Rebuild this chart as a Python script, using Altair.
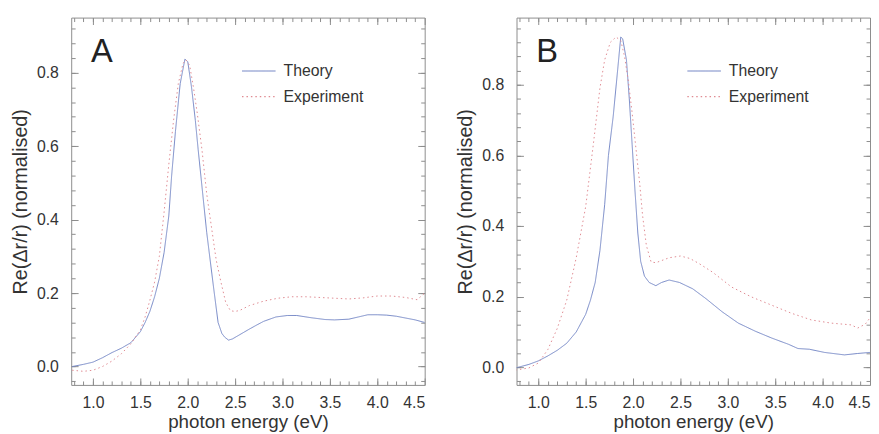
import altair as alt
import pandas as pd

# ---------------- data ----------------
a_theory_x = [0.78, 0.9, 1.0, 1.1, 1.2, 1.3, 1.4, 1.5, 1.55, 1.6, 1.65, 1.7, 1.75, 1.8, 1.83, 1.87,
              1.92, 1.97, 2.0, 2.04, 2.08, 2.11, 2.15, 2.2, 2.27, 2.32, 2.36, 2.39, 2.43, 2.47, 2.55,
              2.65, 2.72, 2.8, 2.93, 3.05, 3.15, 3.3, 3.45, 3.55, 3.7, 3.8, 3.9, 4.0, 4.1, 4.2, 4.3,
              4.4, 4.5]
a_theory_y = [0.0, 0.006, 0.012, 0.024, 0.038, 0.05, 0.065, 0.095, 0.12, 0.15, 0.19, 0.24, 0.31, 0.41,
              0.52, 0.64, 0.77, 0.837, 0.83, 0.76, 0.67, 0.59, 0.49, 0.365, 0.22, 0.12, 0.09, 0.08,
              0.072, 0.075, 0.087, 0.102, 0.112, 0.123, 0.135, 0.139, 0.139, 0.133, 0.128, 0.127,
              0.129, 0.135, 0.141, 0.141, 0.14, 0.137, 0.132, 0.127, 0.12]

a_exp_x = [0.78, 0.9, 1.0, 1.1, 1.2, 1.3, 1.4, 1.5, 1.55, 1.6, 1.65, 1.7, 1.75, 1.8, 1.85, 1.9, 1.95,
           1.98, 2.02, 2.06, 2.1, 2.15, 2.2, 2.25, 2.3, 2.35, 2.4, 2.45, 2.5, 2.55, 2.65, 2.8, 2.95,
           3.1, 3.25, 3.4, 3.55, 3.7, 3.85, 4.0, 4.15, 4.3, 4.42, 4.5]
a_exp_y = [-0.01, -0.013, -0.01, 0.0, 0.015, 0.035, 0.062, 0.1, 0.135, 0.18, 0.23, 0.3, 0.42, 0.55,
           0.67, 0.77, 0.825, 0.835, 0.82, 0.76, 0.69, 0.59, 0.47, 0.38, 0.29, 0.23, 0.175, 0.152,
           0.15, 0.153, 0.166, 0.178, 0.186, 0.19, 0.19, 0.188, 0.186, 0.184, 0.187, 0.192, 0.192,
           0.188, 0.182, 0.2]

b_theory_x = [0.76, 0.9, 1.0, 1.1, 1.2, 1.3, 1.4, 1.5, 1.55, 1.6, 1.65, 1.7, 1.74, 1.79, 1.84, 1.87,
              1.89, 1.93, 1.96, 1.99, 2.02, 2.05, 2.08, 2.12, 2.17, 2.24, 2.3, 2.38, 2.49, 2.63, 2.77,
              2.94, 3.11, 3.29, 3.46, 3.64, 3.74, 3.86, 4.02, 4.23, 4.37, 4.5]
b_theory_y = [-0.002, 0.008, 0.018, 0.032, 0.048, 0.068, 0.1, 0.15, 0.19, 0.24, 0.33, 0.46, 0.6, 0.71,
              0.85, 0.935, 0.93, 0.87, 0.76, 0.63, 0.5, 0.38, 0.3, 0.258, 0.24, 0.231, 0.24, 0.247,
              0.24, 0.222, 0.194, 0.157, 0.125, 0.102, 0.083, 0.065, 0.053, 0.051, 0.042, 0.035,
              0.039, 0.042]

b_exp_x = [0.76, 0.9, 1.0, 1.1, 1.2, 1.3, 1.4, 1.5, 1.58, 1.65, 1.7, 1.76, 1.82, 1.87, 1.91, 1.95,
           1.99, 2.03, 2.07, 2.1, 2.14, 2.19, 2.24, 2.3, 2.38, 2.5, 2.6, 2.7, 2.84, 3.04, 3.25, 3.46,
           3.67, 3.88, 4.09, 4.3, 4.37, 4.45, 4.5]
b_exp_y = [-0.008, -0.002, 0.012, 0.05, 0.11, 0.19, 0.31, 0.455, 0.63, 0.79, 0.87, 0.92, 0.935, 0.925,
           0.88, 0.81, 0.72, 0.62, 0.52, 0.43, 0.345, 0.298, 0.296, 0.302, 0.31, 0.315, 0.308, 0.293,
           0.269, 0.227, 0.199, 0.176, 0.153, 0.134, 0.125, 0.12, 0.111, 0.122, 0.14]

series_names = ["Theory", "Experiment"]
panel_letters = ["A", "B"]
x_title = "photon energy (eV)"
y_title = "Re(\u0394r/r) (normalised)"

x_major = [1.0, 1.5, 2.0, 2.5, 3.0, 3.5, 4.0, 4.5]
x_minor = [round(0.8 + 0.1 * i, 1) for i in range(37)]
y_major = [0.0, 0.2, 0.4, 0.6, 0.8]
y_minor = [round(-0.04 + 0.04 * i, 2) for i in range(26)]

# ---------------- styling ----------------
FONT = "Liberation Sans"
TEXT = "#333333"
FRAME = "#8c8c8c"
BLUE = "#7688c6"
RED = "#e08b92"
MAJ = 7
MIN = 4


def make_df(tx, ty, ex, ey):
    return pd.DataFrame({
        "x": list(tx) + list(ex),
        "y": list(ty) + list(ey),
        "series": [series_names[0]] * len(tx) + [series_names[1]] * len(ex),
    })


def panel(df, ydom, letter):
    xs = alt.Scale(domain=[0.77, 4.5], nice=False, zero=False)
    ys = alt.Scale(domain=ydom, nice=False, zero=False)
    yminor = [v for v in y_minor if ydom[0] < v < ydom[1]]

    leg = alt.Legend(orient="none", legendX=172, legendY=36, title=None,
                     labelFont=FONT, labelFontSize=16, labelColor=TEXT,
                     symbolType="stroke", symbolSize=1156, symbolStrokeWidth=1.1,
                     rowPadding=-12, labelOffset=7, padding=0)

    base = alt.Chart(df)

    main = base.mark_line(strokeWidth=1.0, clip=True).encode(
        x=alt.X("x:Q", scale=xs, axis=alt.Axis(
            orient="bottom", values=x_major, format=".1f", title=x_title,
            domain=False, grid=False, offset=-MAJ, tickSize=MAJ, tickColor=FRAME,
            labelPadding=3 + MAJ, labelFont=FONT, labelFontSize=16, labelColor=TEXT,
            titleFont=FONT, titleFontSize=19, titleFontWeight="normal", titleColor=TEXT,
            titlePadding=2)),
        y=alt.Y("y:Q", scale=ys, axis=alt.Axis(
            orient="left", values=y_major, format=".1f", title=y_title,
            domain=False, grid=False, offset=-MAJ, tickSize=MAJ, tickColor=FRAME,
            labelPadding=6 + MAJ, labelFont=FONT, labelFontSize=16, labelColor=TEXT,
            titleFont=FONT, titleFontSize=20, titleFontWeight="normal", titleColor=TEXT,
            titlePadding=6)),
        color=alt.Color("series:N", scale=alt.Scale(domain=series_names, range=[BLUE, RED]), legend=leg),
        strokeDash=alt.StrokeDash("series:N", scale=alt.Scale(domain=series_names, range=[[1, 0], [1.5, 3]]), legend=leg),
    )

    def dummy(xaxis, yaxis):
        return base.mark_line(strokeOpacity=0).encode(
            x=alt.X("x:Q", scale=xs, axis=xaxis),
            y=alt.Y("y:Q", scale=ys, axis=yaxis),
        )

    common = dict(domain=False, grid=False, labels=False, title=None, tickColor=FRAME)
    bottom_minor = alt.Axis(orient="bottom", values=x_minor, offset=-MIN, tickSize=MIN, **common)
    left_minor = alt.Axis(orient="left", values=yminor, offset=-MIN, tickSize=MIN, **common)
    top_major = alt.Axis(orient="top", values=x_major, offset=-MAJ, tickSize=MAJ, **common)
    right_major = alt.Axis(orient="right", values=y_major, offset=-MAJ, tickSize=MAJ, **common)
    top_minor = alt.Axis(orient="top", values=x_minor, offset=-MIN, tickSize=MIN, **common)
    right_minor = alt.Axis(orient="right", values=yminor, offset=-MIN, tickSize=MIN, **common)

    label = alt.Chart(pd.DataFrame({"t": [letter]})).mark_text(
        font=FONT, fontSize=33, color="#222222", align="left", baseline="alphabetic"
    ).encode(text="t:N", x=alt.value(20), y=alt.value(45))

    return alt.layer(
        main,
        dummy(bottom_minor, left_minor),
        dummy(top_major, right_major),
        dummy(top_minor, right_minor),
        label,
    ).resolve_axis(x="independent", y="independent").properties(width=358, height=372)


pa = panel(make_df(a_theory_x, a_theory_y, a_exp_x, a_exp_y), [-0.05, 0.95], panel_letters[0])
pb = panel(make_df(b_theory_x, b_theory_y, b_exp_x, b_exp_y), [-0.05, 0.99], panel_letters[1])

chart = alt.hconcat(pa, pb, spacing=30).resolve_scale(
    color="independent", strokeDash="independent"
).properties(
    padding={"left": 2, "top": 6, "right": 0, "bottom": 0},
    background="white",
).configure_view(stroke=FRAME, strokeWidth=1)

chart.save("out.html", embed_options={"renderer": "svg", "actions": False})
